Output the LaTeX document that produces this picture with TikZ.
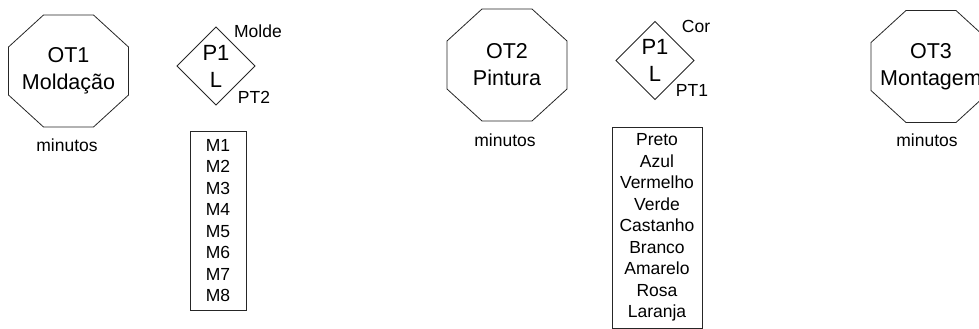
\documentclass[tikz,border=0pt]{standalone}
\usepackage{fontspec}
\setmainfont{Liberation Sans}
\begin{document}
\begin{tikzpicture}[x=1pt,y=-1pt,
  ln/.style={draw=black!85, line width=0.8pt},
  big/.style={font=\fontsize{21.5}{27}\selectfont, align=center, inner sep=0pt},
  mid/.style={font=\fontsize{22}{27}\selectfont, align=center, inner sep=0pt},
  small/.style={font=\fontsize{17.5}{21.5}\selectfont, align=center, inner sep=0pt},
  listbox/.style={ln, font=\fontsize{17.5}{21.5}\selectfont, align=center, inner sep=0pt},
  pics/octo/.style={code={\draw[ln] (-25,-56) -- (25,-56) -- (60,-24) -- (60,24) -- (25,56) -- (-25,56) -- (-60,24) -- (-60,-24) -- cycle;}},
  pics/dia/.style={code={\draw[ln] (-39,0) -- (0,-39) -- (39,0) -- (0,39) -- cycle;}}
]
\clip (0,0) rectangle (979,329);
\useasboundingbox (0,0) rectangle (979,329);

% OT1
\coordinate (o1) at (68.5,71);
\pic at (o1) {octo};
\node[big] (t1) at (o1) {OT1\\Moldação};
\node[small] (m1) at (67,145) {minutos};

% Diamond 1
\coordinate (d1) at (216,66);
\pic at (d1) {dia};
\node[mid] (p1) at (d1) {P1\\L};
\node[small] (molde) at (258,31) {Molde};
\node[small] (pt2) at (254,97) {PT2};
\node[listbox, minimum width=56, minimum height=179] (lm) at (218,220.5)
  {M1\\M2\\M3\\M4\\M5\\M6\\M7\\M8};

% OT2
\coordinate (o2) at (507,65);
\pic at (o2) {octo};
\node[big] (t2) at (o2) {OT2\\Pintura};
\node[small] (m2) at (505,140) {minutos};

% Diamond 2
\coordinate (d2) at (655,60.5);
\pic at (d2) {dia};
\node[mid] (p2) at (d2) {P1\\L};
\node[small] (cor) at (696,26) {Cor};
\node[small] (pt1) at (692,90) {PT1};
\node[listbox, minimum width=90, minimum height=201] (lc) at (657,227.5)
  {Preto\\Azul\\Vermelho\\Verde\\Castanho\\Branco\\Amarelo\\Rosa\\Laranja};

% OT3
\coordinate (o3) at (931,66.5);
\pic at (o3) {octo};
\node[big] (t3) at (o3) {OT3\\Montagem};
\node[small] (m3) at (927,140) {minutos};
\end{tikzpicture}
\end{document}
